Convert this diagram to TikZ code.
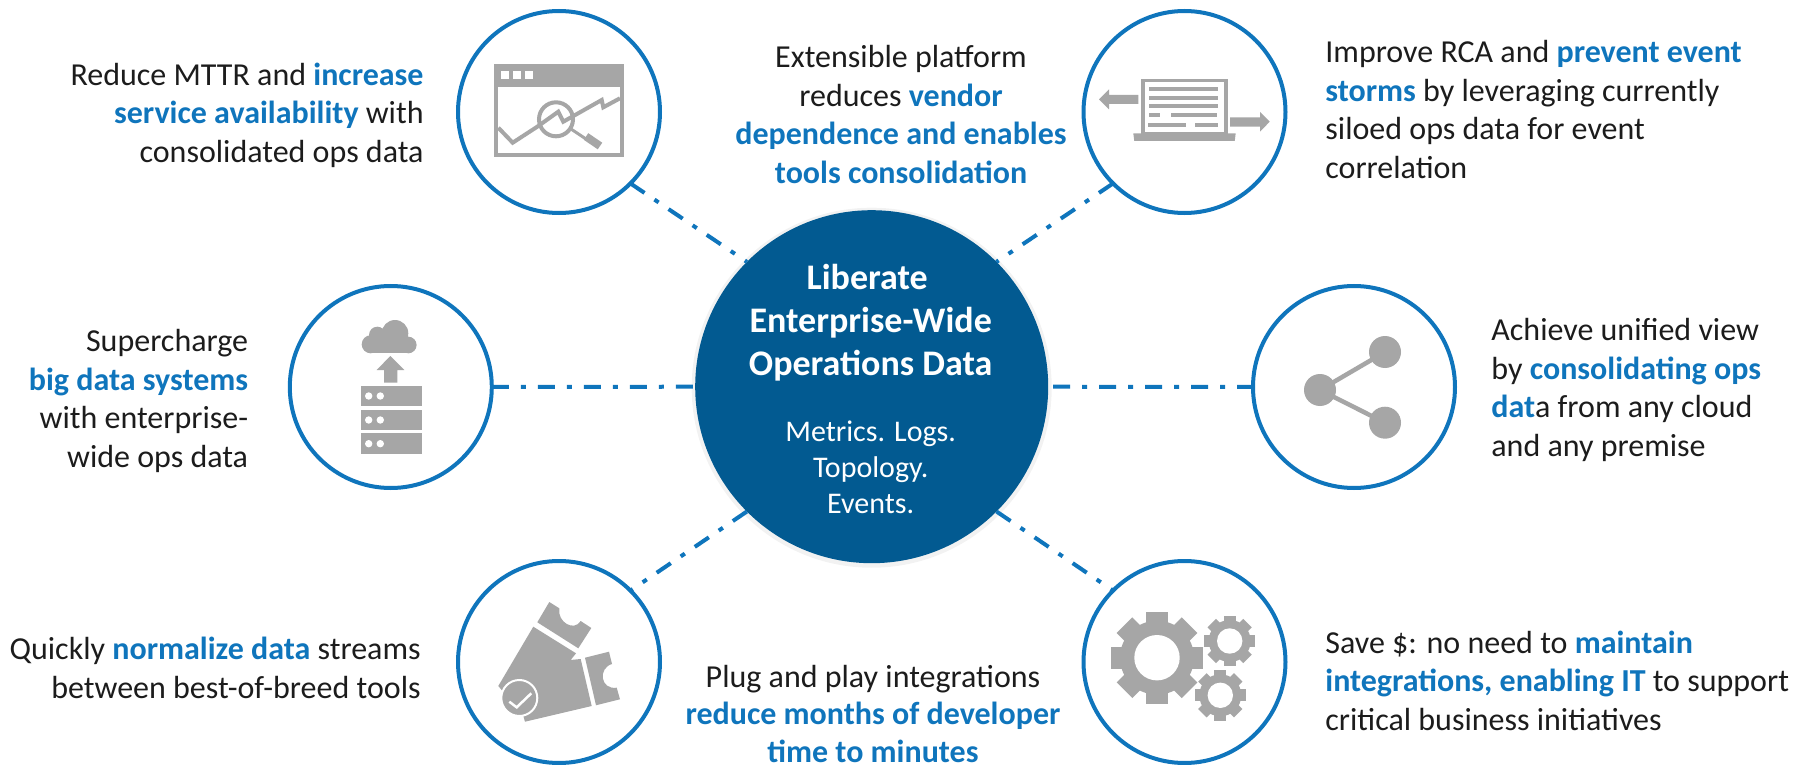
\documentclass[tikz,border=0pt]{standalone}
\usepackage{fontspec}
\usetikzlibrary{shadows}
\setmainfont{Carlito}
\definecolor{linkblue}{HTML}{0F75BC}
\definecolor{hubblue}{HTML}{025A91}
\definecolor{icongrey}{HTML}{A6A6A6}
\definecolor{bodyink}{HTML}{1C1C1C}
\newcommand{\hilite}[1]{\textcolor{linkblue}{\textbf{#1}}}
% one gear: centre x, centre y, tip radius, body radius, hole radius, half tooth
\newcommand{\gearicon}[6]{%
  \foreach \toothangle in {0,45,...,315}
    \fill[icongrey,shift={(#1,#2)},rotate=\toothangle] (-#6,0) rectangle (#6,#3);
  \fill[icongrey] (#1,#2) circle (#4);
  \fill[white] (#1,#2) circle (#5);
}
\tikzset{
  spoke/.style={circle,draw=linkblue,line width=2pt,fill=white,inner sep=0pt,outer sep=0pt,minimum size=101pt},
  link/.style={draw=linkblue,line width=2pt,dash pattern=on 8.5pt off 6pt on 2.5pt off 6pt},
  say/.style={text=bodyink,inner sep=0pt,font=\fontsize{16}{19.3}\selectfont},
}

\begin{document}
\begin{tikzpicture}[x=0.5pt,y=-0.5pt]
\useasboundingbox (0,0) rectangle (1796,765);

% Hub and spokes
\node [circle,fill=hubblue,inner sep=0pt,outer sep=0pt,minimum size=176.5pt,drop shadow={shadow xshift=0pt,shadow yshift=-0.5pt,shadow scale=1.02,opacity=.1}] (hub) at (871.7,386.7) {};
\node [spoke] (window) at (559,112) {};
\node [spoke] (laptop) at (1184.5,112) {};
\node [spoke] (cloud) at (390.8,387) {};
\node [spoke] (share) at (1354,387) {};
\node [spoke] (ticket) at (559,662) {};
\node [spoke] (gears) at (1184.5,662) {};

% Links
\draw [link] (window.-45) -- (hub.135);
\draw [link] (laptop.-135) -- (hub.45);
\draw [link] (cloud.0) -- (hub.180);
\draw [link,shorten <=2.5pt] (hub.0) -- (share.180);
\draw [link] (hub.-135) -- (ticket.45);
\draw [link] (hub.-45) -- (gears.135);

% Hub text
\node [text=white,align=center,inner sep=0pt,font=\fontsize{18}{21.5}\selectfont\bfseries] (hubtitle) at (870.7,322.5) {Liberate\hspace*{3.5pt}\\Enterprise-Wide\\Operations Data};
\node [text=white,align=center,inner sep=0pt,font=\fontsize{15}{18}\selectfont] (hubsub) at (870.7,467) {Metrics. Logs.\\Topology.\\Events.};

% Spoke text
\node [say,align=right,anchor=east] (saywindow) at (424,115) {Reduce MTTR and \hilite{increase}\\\hilite{service availability} with\\consolidated ops data};
\node [say,align=center] (saylaptopleft) at (901,114.5) {Extensible platform\\reduces \hilite{vendor}\\\hilite{dependence and enables}\\\hilite{tools consolidation}};
\node [say,align=left,anchor=west] (saylaptop) at (1325,109.5) {Improve RCA and \hilite{prevent event}\\\hilite{storms} by leveraging currently\\siloed ops data for event\\correlation};
\node [say,align=right,anchor=east] (saycloud) at (248.5,401) {Supercharge\\\hilite{big data systems}\\with enterprise-\\wide ops data};
\node [say,align=left,anchor=west] (sayshare) at (1491,390) {Achieve unified view\\by \hilite{consolidating ops}\\\hilite{dat}a from any cloud\\and any premise};
\node [say,align=right,anchor=east] (sayticket) at (421,668) {Quickly \hilite{normalize data} streams\\between best-of-breed tools};
\node [say,align=center,font=\fontsize{16}{18.8}\selectfont] (sayticketright) at (873,714) {Plug and play integrations\\\hilite{reduce months of developer}\\\hilite{time to minutes}};
\node [say,align=left,anchor=west] (saygears) at (1325,680.5) {Save \$: no need to \hilite{maintain}\\\hilite{integrations, enabling IT} to support\\critical business initiatives};

% Window icon
\draw [icongrey,line width=2pt] (495.7,66) rectangle (622.3,154.7);
\fill [icongrey] (493.7,64) rectangle (624.3,87.3);
\fill [white] (501,71.3) rectangle (509.3,79.3);
\fill [white] (513.3,71.3) rectangle (521.3,79.3);
\fill [white] (524.7,71.3) rectangle (532.7,79.3);
\draw [icongrey,line width=2pt] (498.3,127.7) -- (512.7,142.7) -- (537.3,126.7) -- (558.3,111.7) -- (563.3,121.7) -- (601.7,100) -- (603.3,107.3) -- (620,98.3);
\draw [icongrey,line width=2pt] (556,119.3) circle (17);
\draw [icongrey,line width=1.5pt] (571,129) -- (586,139);
\draw [icongrey,line width=4pt] (586,136.5) -- (600,146);

% Laptop icon
\draw [icongrey,line width=1.75pt] (1143,80.7) rectangle (1226,133.3);
\fill [icongrey] (1133.3,133.3) -- (1235.7,133.3) -- (1234.7,141) -- (1134.3,141) -- cycle;
\foreach \rowy in {89,98,106}
  \draw [icongrey,line width=2pt] (1149,\rowy) -- (1218,\rowy);
\draw [icongrey,line width=2pt] (1149,114.7) -- (1160,114.7) (1171,114.7) -- (1217,114.7);
\draw [icongrey,line width=2pt] (1148,125) -- (1186,125) (1195,125) -- (1218,125);
\fill [icongrey] (1099,99.3) -- (1109,89.3) -- (1109,95) -- (1138.3,95) -- (1138.3,104) -- (1109,104) -- (1109,109.3) -- cycle;
\fill [icongrey] (1269.7,121.7) -- (1260,112) -- (1260,117.3) -- (1230,117.3) -- (1230,126.7) -- (1260,126.7) -- (1260,131.7) -- cycle;

% Cloud icon
\fill [icongrey] (370.7,344.3) circle (9) (377.3,335) circle (8.3) (395,333.3) circle (13.3) (408.3,345) circle (8.3);
\fill [icongrey] (370.7,338) rectangle (408.3,353.3);
\fill [icongrey] (390.3,356) -- (404.3,370) -- (397.3,370) -- (397.3,382.7) -- (384,382.7) -- (384,370) -- (376.7,370) -- cycle;
\foreach \racky in {396,420,443.7} {
  \fill [icongrey] (361.3,\racky-10.3) rectangle (422,\racky+10.3);
  \fill [white] (368.7,\racky) circle (3.7) (380.3,\racky) circle (3.7);
}

% Share icon
\draw [icongrey,line width=2.25pt] (1385,352) -- (1320,390) -- (1385,422.7);
\fill [icongrey] (1320,390) circle (16) (1385,352) circle (16) (1385,422.7) circle (16);

% Ticket icon
\fill [icongrey] (549.3,602) -- (559.3,608.3) .. controls (557,622) and (574,632) .. (580.7,621) -- (591.3,628) -- (578.3,648.3) -- (537.3,622.3) -- cycle;
\fill [icongrey] (533.3,626.7) -- (576,653.3) -- (570.7,660) -- (580.7,659) -- (591.7,706) -- (525,721.7) -- (523.3,716) -- (498.3,686) -- cycle;
\fill [icongrey] (585,657.7) -- (609,651.7) -- (612,664) .. controls (598,668) and (600,690) .. (616.7,687.7) -- (620,699.3) -- (596,705.3) -- cycle;
\draw [icongrey,fill=icongrey] (519.3,698) circle (17);
\draw [white,line width=1pt] (519.3,698) circle (18);
\draw [white,line width=1.25pt] (509.3,701.7) -- (516.7,707.3) -- (531.3,693.3);

% Gears icon
\gearicon{1157}{657.7}{46}{37}{22.7}{11}
\gearicon{1229.7}{641}{25.3}{21}{12.7}{6}
\gearicon{1220.3}{695.3}{25.3}{21}{12.7}{6}

\end{tikzpicture}
\end{document}
